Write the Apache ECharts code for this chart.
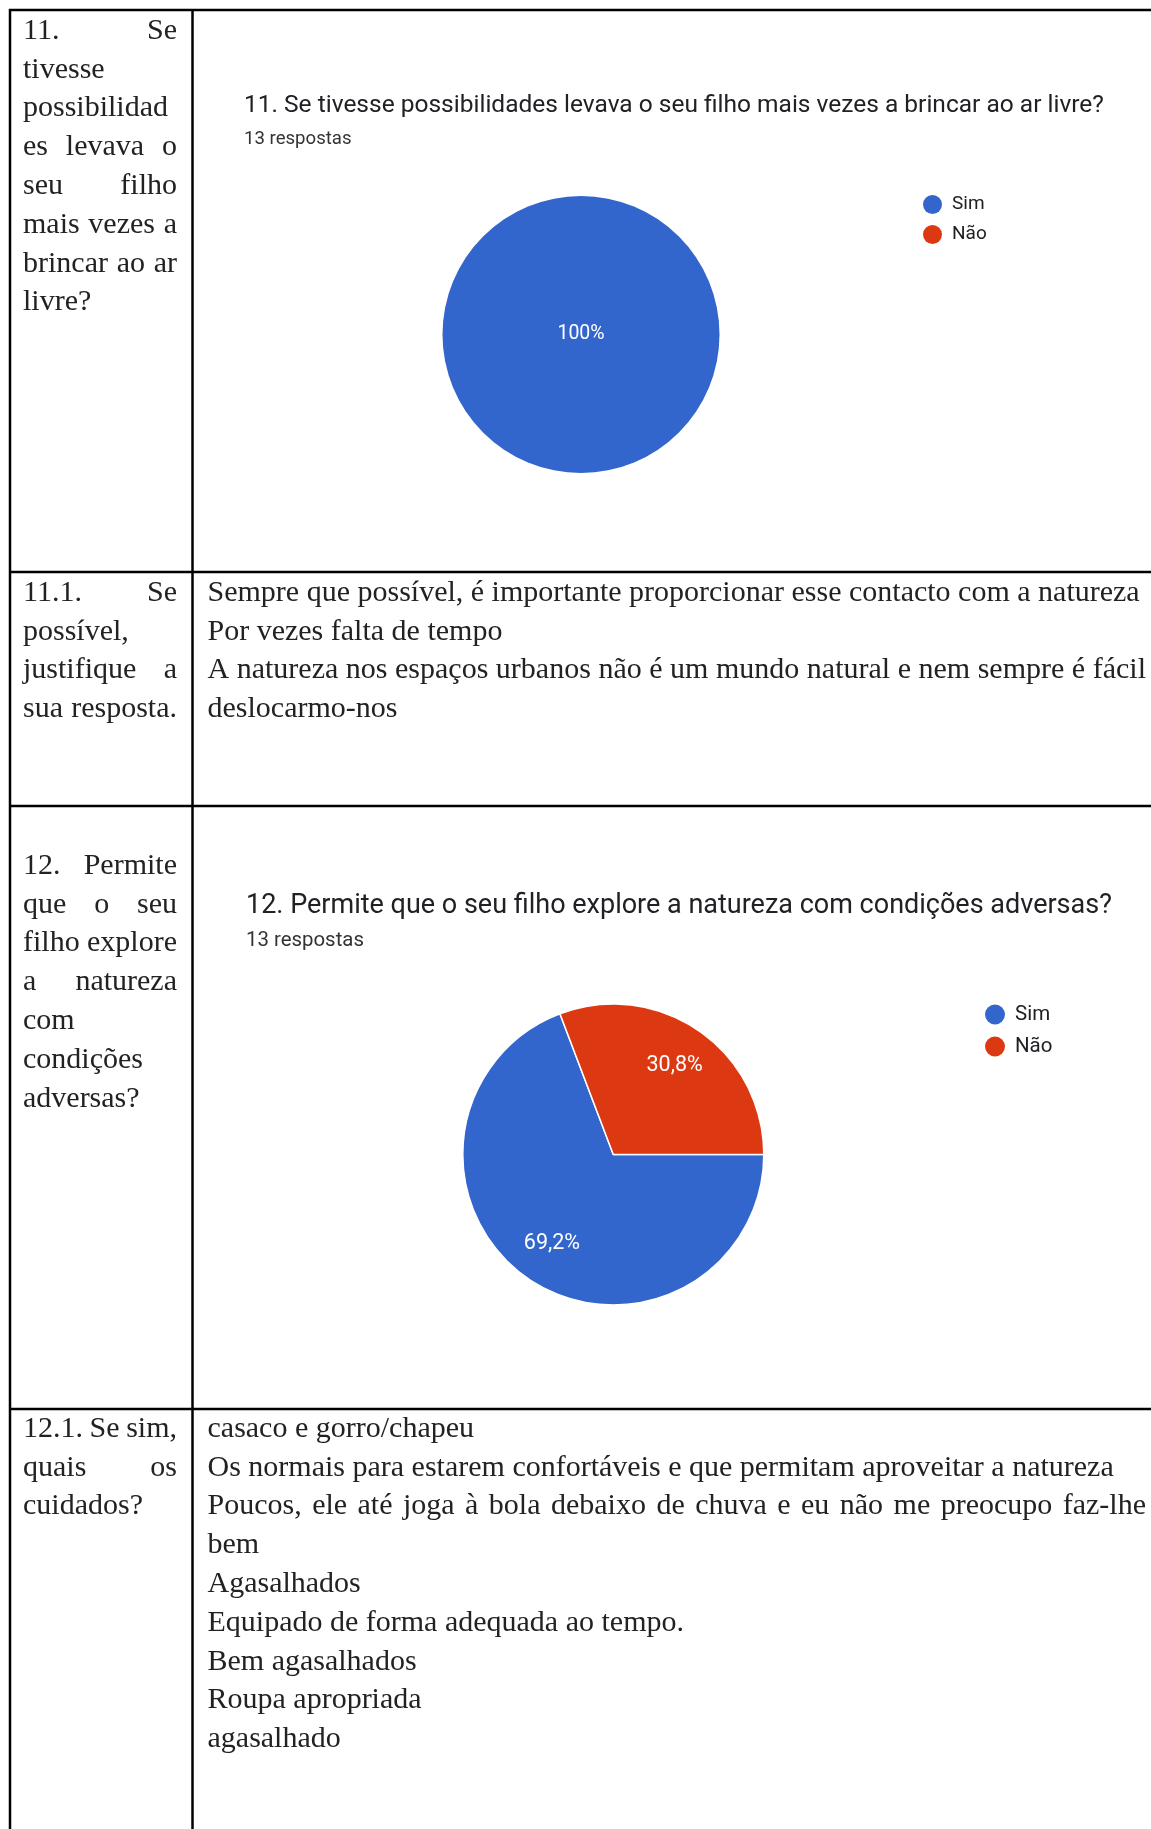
<!DOCTYPE html>
<html>
<head>
<meta charset="utf-8">
<script src="https://cdn.jsdelivr.net/npm/echarts@6/dist/echarts.min.js"></script>
<style>
html, body { margin: 0; padding: 0; background: #fff; }
#main { width: 1151px; height: 1829px; }
</style>
</head>
<body>
<div id="main"></div>
<script>
var myChart = echarts.init(document.getElementById('main'));

// dados dos graficos
var categories = ['Sim', 'Não'];
var q11Values = [13, 0];
var q12Values = [9, 4];
var q11Title = '11. Se tivesse possibilidades levava o seu filho mais vezes a brincar ao ar livre?';
var q12Title = '12. Permite que o seu filho explore a natureza com condições adversas?';
var answersLabel = '13 respostas';

// texto da tabela (j = linha justificada)
var q11Question = [
    { t: '11. Se', j: true }, { t: 'tivesse' }, { t: 'possibilidad' },
    { t: 'es levava o', j: true }, { t: 'seu filho', j: true },
    { t: 'mais vezes a', j: true }, { t: 'brincar ao ar', j: true }, { t: 'livre?' }
];
var q111Question = [
    { t: '11.1. Se', j: true }, { t: 'possível,' },
    { t: 'justifique a', j: true }, { t: 'sua resposta.', j: true }
];
var q111Answers = [
    { t: 'Sempre que possível, é importante proporcionar esse contacto com a natureza' },
    { t: 'Por vezes falta de tempo' },
    { t: 'A natureza nos espaços urbanos não é um mundo natural e nem sempre é fácil', j: true },
    { t: 'deslocarmo-nos' }
];
var q12Question = [
    { t: '12. Permite', j: true }, { t: 'que o seu', j: true },
    { t: 'filho explore', j: true }, { t: 'a natureza', j: true },
    { t: 'com' }, { t: 'condições' }, { t: 'adversas?' }
];
var q121Question = [
    { t: '12.1. Se sim,', j: true }, { t: 'quais os', j: true }, { t: 'cuidados?' }
];
var q121Answers = [
    { t: 'casaco e gorro/chapeu' },
    { t: 'Os normais para estarem confortáveis e que permitam aproveitar a natureza' },
    { t: 'Poucos, ele até joga à bola debaixo de chuva e eu não me preocupo faz-lhe', j: true },
    { t: 'bem' },
    { t: 'Agasalhados' },
    { t: 'Equipado de forma adequada ao tempo.' },
    { t: 'Bem agasalhados' },
    { t: 'Roupa apropriada' },
    { t: 'agasalhado' }
];

var serifFont = "30px 'Liberation Serif'";
var ctx = document.createElement('canvas').getContext('2d');
ctx.font = serifFont;

function word(str, x, y) {
    return {
        type: 'text', x: x, y: y, silent: true,
        style: { text: str, font: serifFont, fill: '#222', verticalAlign: 'middle' }
    };
}

// escreve um bloco de linhas, justificando quando pedido
function block(lines, x0, x1, y0) {
    var out = [];
    lines.forEach(function (line, i) {
        var y = y0 + i * 38.8;
        var words = line.t.split(' ');
        if (!line.j || words.length < 2) {
            out.push(word(line.t, x0, y));
            return;
        }
        var total = 0;
        words.forEach(function (w) { total += ctx.measureText(w).width; });
        var gap = (x1 - x0 - total) / (words.length - 1);
        var x = x0;
        words.forEach(function (w) {
            out.push(word(w, x, y));
            x += ctx.measureText(w).width + gap;
        });
    });
    return out;
}

function hline(y) {
    return { type: 'line', silent: true, shape: { x1: 9, y1: y, x2: 1151, y2: y }, style: { stroke: '#000', lineWidth: 2.5 } };
}
function vline(x) {
    return { type: 'line', silent: true, shape: { x1: x, y1: 9, x2: x, y2: 1829 }, style: { stroke: '#000', lineWidth: 2.5 } };
}

var graphics = [
    hline(10), hline(572), hline(806), hline(1409),
    vline(10), vline(192.5)
].concat(
    block(q11Question, 23, 177, 31),
    block(q111Question, 23, 177, 593),
    block(q111Answers, 207.5, 1146, 593),
    block(q12Question, 23, 177, 866),
    block(q121Question, 23, 177, 1429),
    block(q121Answers, 207.5, 1146, 1429)
);

function toData(values) {
    return categories.map(function (name, i) { return { name: name, value: values[i] }; });
}
function pctLabel(p) {
    return p.value ? String(p.percent).replace('.', ',') + '%' : '';
}

var option = {
    backgroundColor: '#fff',
    animation: false,
    color: ['#3366cc', '#dc3912'],
    title: [
        {
            text: q11Title, subtext: answersLabel,
            left: 244, top: 93, padding: 0, itemGap: 12,
            textStyle: { fontFamily: 'Roboto', fontSize: 24.5, fontWeight: 'normal', color: '#202124' },
            subtextStyle: { fontFamily: 'Roboto', fontSize: 18.6, color: '#333' }
        },
        {
            text: q12Title, subtext: answersLabel,
            left: 246, top: 893, padding: 0, itemGap: 11,
            textStyle: { fontFamily: 'Roboto', fontSize: 27, fontWeight: 'normal', color: '#202124' },
            subtextStyle: { fontFamily: 'Roboto', fontSize: 20.4, color: '#333' }
        }
    ],
    legend: [
        {
            data: categories, orient: 'vertical', left: 923, top: 195,
            icon: 'circle', itemWidth: 19, itemHeight: 19, itemGap: 11,
            selectedMode: false, padding: 0,
            textStyle: { fontFamily: 'Roboto', fontSize: 19, color: '#202124', padding: [0, 0, 0, 5] }
        },
        {
            data: categories, orient: 'vertical', left: 985, top: 1004,
            icon: 'circle', itemWidth: 20, itemHeight: 20, itemGap: 11,
            selectedMode: false, padding: 0,
            textStyle: { fontFamily: 'Roboto', fontSize: 20.5, color: '#202124', padding: [0, 0, 0, 5] }
        }
    ],
    series: [
        {
            name: 'q11', type: 'pie', center: [581, 334.5], radius: 138.5,
            percentPrecision: 1, silent: true,
            data: toData(q11Values),
            label: { position: 'center', formatter: pctLabel, color: '#fff', fontFamily: 'Roboto', fontSize: 19.5 },
            labelLine: { show: false }
        },
        {
            name: 'q12', type: 'pie', center: [613.3, 1154.5], radius: 150.5,
            startAngle: 0, percentPrecision: 1, silent: true,
            data: toData(q12Values),
            itemStyle: { borderColor: '#fff', borderWidth: 1.5 },
            label: { show: false }, labelLine: { show: false }
        },
        {
            // so as etiquetas, mais para fora que o meio do raio
            name: 'q12 labels', type: 'pie', center: [613.3, 1154.5], radius: 210,
            startAngle: 0, percentPrecision: 1, silent: true, z: 3,
            data: toData(q12Values),
            itemStyle: { color: 'rgba(0,0,0,0)' },
            label: { position: 'inside', formatter: pctLabel, color: '#fff', fontFamily: 'Roboto', fontSize: 21.5 },
            labelLine: { show: false }
        }
    ],
    graphic: graphics
};

myChart.setOption(option);
</script>
</body>
</html>
